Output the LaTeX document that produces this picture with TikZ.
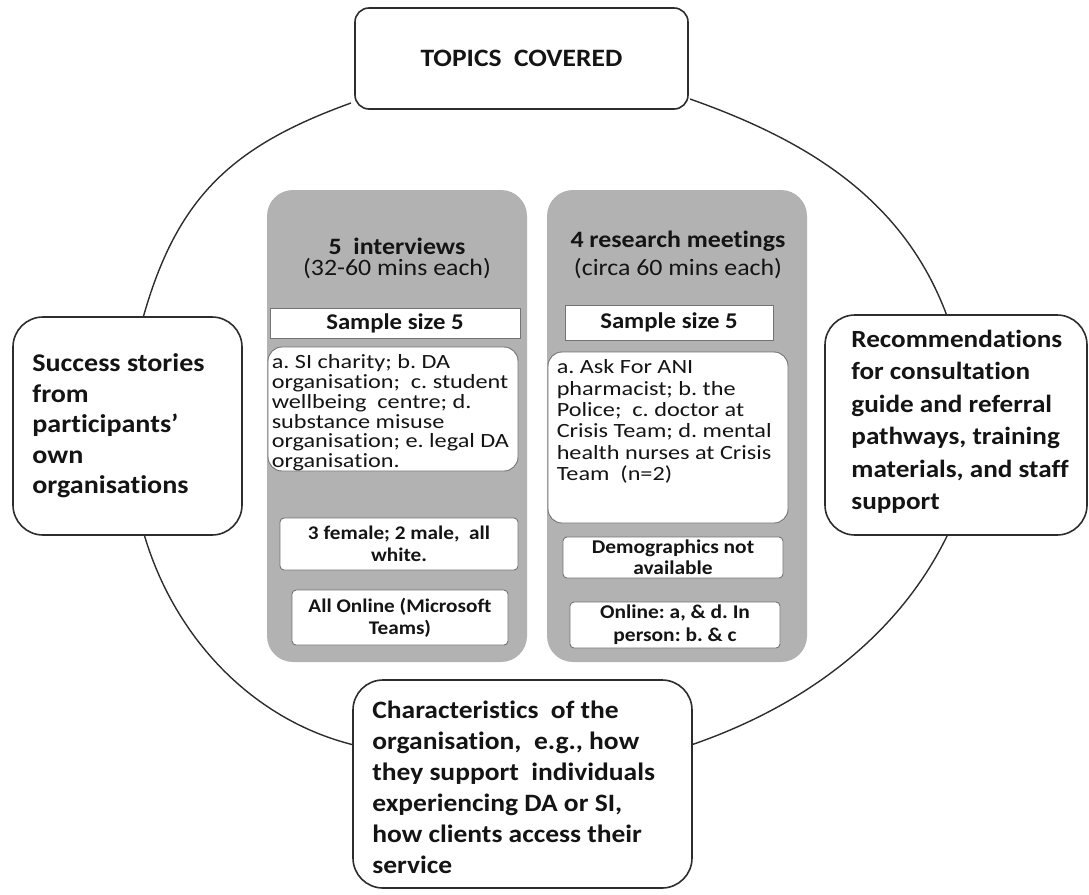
\documentclass[tikz,border=0pt]{standalone}
\usepackage{fontspec}
\setmainfont{Carlito}[FakeStretch=1.1,Ligatures=NoCommon]
\newfontfamily\listfont{Carlito}[FakeStretch=1.2,Ligatures=NoCommon]
\frenchspacing
\definecolor{panel}{RGB}{178,178,178}
\definecolor{edge}{RGB}{45,45,45}
\definecolor{thin}{RGB}{115,115,115}
\definecolor{ink}{RGB}{20,20,20}
\tikzset{
  outer/.style={draw=edge, line width=1.6pt, fill=white, inner sep=0pt, text=ink},
  panelbox/.style={fill=panel, draw=none, rounded corners=26pt},
  whitebox/.style={draw=thin, line width=0.9pt, fill=white, inner sep=0pt, text=ink, align=center},
  listbox/.style={whitebox, rounded corners=14pt},
  arcline/.style={draw=edge, line width=1.4pt},
  lefttext/.style={inner sep=0pt, text=ink, align=left},
  smallbold/.style={font={\fontsize{19.3}{22}\selectfont\bfseries}},
  titletext/.style={inner sep=0pt, text=ink}
}
\begin{document}
\begin{tikzpicture}[x=1pt,y=-1pt]
\useasboundingbox (0,0) rectangle (1089,894);
% arc end points
\coordinate (a1s) at (351,103);
\coordinate (a1e) at (143,318);
\coordinate (a2s) at (690,99);
\coordinate (a2e) at (947,316);
\coordinate (a3s) at (144,534);
\coordinate (a3e) at (354,745);
\coordinate (a4s) at (948,534);
\coordinate (a4e) at (691,745);
\draw[arcline] (a1s) .. controls (232,146) and (177,197) .. (a1e);
\draw[arcline] (a2s) .. controls (809,141) and (904,200) .. (a2e);
\draw[arcline] (a3s) .. controls (174,637) and (252,720) .. (a3e);
\draw[arcline] (a4s) .. controls (897,640) and (799,708) .. (a4e);

% outer boxes
\node[outer, rounded corners=14pt, minimum width=333pt, minimum height=101pt,
      font={\fontsize{25}{30}\selectfont\bfseries}] (top) at (521.5,58.5) {TOPICS\ \ COVERED};
\node[outer, rounded corners=30pt, minimum width=229pt, minimum height=218pt] (left) at (127.5,426) {};
\node[lefttext, anchor=west, font={\fontsize{25.5}{30.5}\selectfont\bfseries}] (lefttxt) at ([xshift=20pt]left.west)
  {Success stories\\from\\participants’\\own\\organisations};
\node[outer, rounded corners=30pt, minimum width=262pt, minimum height=220pt] (right) at (956,425) {};
\node[lefttext, anchor=west, font={\fontsize{24.7}{32.5}\selectfont\bfseries}] (righttxt) at ([xshift=27pt,yshift=3pt]right.west)
  {Recommendations\\for consultation\\guide and referral\\pathways, training\\materials, and staff\\support};
\node[outer, rounded corners=30pt, minimum width=339pt, minimum height=208pt] (bottom) at (522.5,784) {};
\node[lefttext, anchor=west, font={\fontsize{25}{31}\selectfont\bfseries}] (bottomtxt) at ([xshift=20pt,yshift=-3pt]bottom.west)
  {Characteristics\ \ of the\\organisation,\ \ e.g., how\\they support\ \ individuals\\experiencing DA or SI,\\how clients access their\\service};

% left panel
\node[panelbox, minimum width=260pt, minimum height=472pt] (lpanel) at (397,426) {};
\node[titletext, font={\fontsize{23.5}{26}\selectfont\bfseries}] (ltitle) at (397,246) {5\ \ interviews};
\node[titletext, font={\fontsize{23.5}{26}\selectfont}] (lsub) at (397,269) {(32-60 mins each)};
\node[whitebox, minimum width=250pt, minimum height=30pt, font={\fontsize{22.5}{26}\selectfont\bfseries}] (lsample) at (395,323) {Sample size 5};
\node[listbox, minimum width=250pt, minimum height=124pt] (llist) at (393,409) {};
\node[lefttext, anchor=north west, font={\listfont\fontsize{20.2}{19.8}\selectfont}] (llisttxt) at ([xshift=4pt,yshift=-8pt]llist.north west)
  {a. SI charity; b. DA\\organisation;\ \ c. student\\wellbeing\ \ centre; d.\\substance misuse\\organisation; e. legal DA\\organisation.};
\node[whitebox, rounded corners=4pt, minimum width=238pt, minimum height=52pt, smallbold] (ldemo) at (399,544) {3 female; 2 male,\ \ all\\white.};
\node[whitebox, rounded corners=4pt, minimum width=216pt, minimum height=55pt, smallbold] (lonline) at (400,617.5) {All Online (Microsoft\\Teams)};

% right panel
\node[panelbox, minimum width=260pt, minimum height=472pt] (rpanel) at (677,426) {};
\node[titletext, font={\fontsize{23.5}{26}\selectfont\bfseries}] (rtitle) at (678,241) {4 research meetings};
\node[titletext, font={\fontsize{23.5}{26}\selectfont}] (rsub) at (678,269) {(circa 60 mins each)};
\node[whitebox, minimum width=208pt, minimum height=35pt, font={\fontsize{22.5}{26}\selectfont\bfseries}] (rsample) at (669,322.5) {Sample size 5};
\node[listbox, minimum width=240pt, minimum height=171pt] (rlist) at (668,437.5) {};
\node[lefttext, anchor=north west, font={\listfont\fontsize{20.2}{21.4}\selectfont}] (rlisttxt) at ([xshift=9pt,yshift=-8pt]rlist.north west)
  {a. Ask For ANI\\pharmacist; b. the\\Police;\ \ c. doctor at\\Crisis Team; d. mental\\health nurses at Crisis\\Team\ \ (n=2)};
\node[whitebox, rounded corners=4pt, minimum width=220pt, minimum height=41pt, font={\fontsize{19.5}{21}\selectfont\bfseries}] (rdemo) at (673,557.5) {Demographics not\\available};
\node[whitebox, rounded corners=4pt, minimum width=210pt, minimum height=46pt, font={\fontsize{19.5}{23}\selectfont\bfseries}] (ronline) at (675,625) {Online: a, \& d. In\\person: b. \& c};
\end{tikzpicture}
\end{document}
